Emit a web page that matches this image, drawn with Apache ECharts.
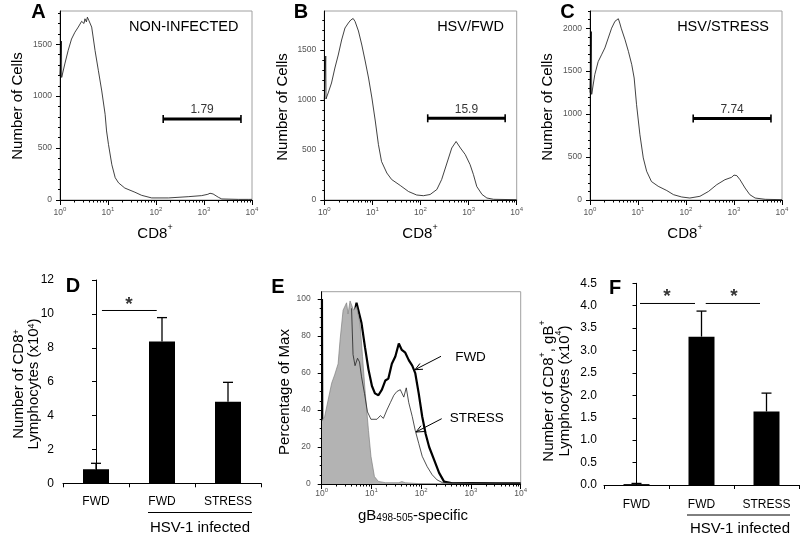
<!DOCTYPE html>
<html><head><meta charset="utf-8">
<script src="https://cdn.jsdelivr.net/npm/echarts@6/dist/echarts.min.js"></script>
<style>html,body{margin:0;padding:0;background:#fff}#c{width:800px;height:539px}</style>
</head><body><div id="c"></div>
<script>
const FONT = 'Liberation Sans, Arial, Helvetica, sans-serif';

// ---------- Panels A-C : CD8 histograms (x = log10 intensity, y = number of cells)
const aLogX  = [0, 0.03, 0.035, 0.10, 0.17, 0.24, 0.31, 0.38, 0.45, 0.50, 0.52, 0.55, 0.57, 0.60, 0.625, 0.66, 0.69, 0.73, 0.80, 0.87, 0.94, 0.97, 1.01, 1.08, 1.15, 1.22, 1.35, 1.56, 1.70, 1.91, 2.26, 2.67, 2.95, 3.08, 3.125, 3.19, 3.30, 3.37, 3.72, 3.92, 4.0];
const aCells = [1200, 1530, 1180, 1310, 1440, 1550, 1615, 1665, 1720, 1700, 1745, 1715, 1760, 1730, 1740, 1665, 1570, 1440, 1245, 1050, 825, 665, 535, 340, 215, 165, 115, 75, 45, 20, 20, 32, 42, 55, 65, 58, 26, 10, 6, 6, 6];

const bLogX  = [0, 0.03, 0.035, 0.08, 0.15, 0.22, 0.29, 0.36, 0.43, 0.50, 0.55, 0.57, 0.60, 0.64, 0.71, 0.78, 0.85, 0.92, 0.99, 1.06, 1.125, 1.19, 1.30, 1.40, 1.58, 1.75, 1.92, 2.06, 2.20, 2.34, 2.44, 2.55, 2.65, 2.74, 2.83, 2.93, 3.03, 3.10, 3.17, 3.28, 3.38, 3.52, 4.0];
const bCells = [1000, 1440, 1010, 1070, 1170, 1320, 1450, 1600, 1720, 1770, 1800, 1790, 1815, 1785, 1690, 1550, 1390, 1220, 1020, 790, 555, 385, 270, 205, 145, 85, 50, 43, 55, 105, 205, 370, 520, 585, 520, 455, 355, 255, 135, 55, 20, 7, 3];

const cLogX  = [0, 0.03, 0.035, 0.10, 0.17, 0.24, 0.31, 0.38, 0.45, 0.52, 0.56, 0.59, 0.62, 0.65, 0.73, 0.80, 0.87, 0.92, 0.97, 1.04, 1.11, 1.18, 1.28, 1.42, 1.60, 1.74, 1.91, 2.08, 2.29, 2.47, 2.64, 2.81, 2.95, 3.0, 3.06, 3.09, 3.125, 3.23, 3.33, 3.44, 3.65, 4.0];
const cCells = [1250, 1960, 1230, 1460, 1610, 1690, 1770, 1885, 2000, 2080, 2090, 2110, 2060, 2000, 1865, 1730, 1575, 1420, 1110, 760, 490, 335, 215, 160, 110, 62, 35, 23, 43, 100, 178, 236, 264, 290, 283, 300, 236, 140, 62, 23, 8, 4];

// gates (log10 range), level and percentage
const gateLogX   = [[2.15, 3.77], [2.15, 3.76], [2.15, 3.77]];
const gateLevel  = [780, 817, 950];
const gateLabels = ['1.79', '15.9', '7.74'];
const panelTags  = ['NON-INFECTED', 'HSV/FWD', 'HSV/STRESS'];

// ---------- Panel E : gB498-505 overlay (percentage of max)
const isoLogX = [0, 0.06, 0.13, 0.20, 0.26, 0.33, 0.37, 0.43, 0.50, 0.53, 0.57, 0.64, 0.70, 0.74, 0.77, 0.82, 0.87, 0.94, 0.99, 1.06, 1.14, 1.28, 1.55, 1.61, 1.68, 1.95, 4.0];
const isoPct  = [34, 36.5, 45.5, 54.5, 59, 65, 78, 94, 98, 92, 99, 94, 96, 97, 87, 69, 51, 29, 15, 4, 1.4, 0.7, 0.7, 1.3, 0.7, 0.2, 0];
const fwdLogX = [0.005, 0.012, 0.3, 0.5, 0.6, 0.64, 0.70, 0.74, 0.80, 0.87, 0.94, 1.01, 1.07, 1.14, 1.21, 1.28, 1.34, 1.41, 1.48, 1.55, 1.61, 1.68, 1.75, 1.82, 1.88, 1.95, 2.02, 2.09, 2.16, 2.26, 2.36, 2.46, 2.63, 3.0, 3.5, 4.0];
const fwdPct  = [100, 25, 30, 70, 85, 90, 98, 99, 87, 74, 62, 53, 49, 48, 51, 56, 57, 65, 69, 76, 72.5, 71, 67, 64, 60, 49, 36.5, 27, 20, 13, 6, 1.3, 0.4, 0.5, 0.3, 0.4];
const strLogX = [0.60, 0.63, 0.67, 0.72, 0.76, 0.80, 0.86, 0.92, 0.99, 1.11, 1.18, 1.24, 1.31, 1.38, 1.45, 1.51, 1.58, 1.65, 1.70, 1.75, 1.82, 1.88, 1.95, 2.02, 2.12, 2.22, 2.32, 2.43, 4.0];
const strPct  = [95, 70, 64, 68, 66, 58, 49, 39, 35, 35, 37, 35.5, 40, 44, 48, 50, 51, 47, 52, 44, 36.5, 29, 22, 15, 9.4, 5, 2.2, 0.7, 0.3];

// ---------- Panels D, F : bar charts
const barCats  = ['FWD', 'FWD', 'STRESS'];
const dMeans   = [0.83, 8.37, 4.82];
const dErrTop  = [1.18, 9.78, 5.96];
const fMeans   = [0.02, 3.31, 1.64];
const fErrTop  = [0.035, 3.88, 2.05];
// significance bars: [from, to, level] in category units; stars [x, y]
const dSig   = [[0.09, 0.92, 10.2]];
const dStars = [[0.5, 10.52]];
const fSig   = [[0.054, 0.90, 4.05], [1.065, 1.90, 4.05]];
const fStars = [[0.47, 4.19], [1.50, 4.19]];

// ticks
const decades  = [0, 1, 2, 3, 4];
const cellTicksAB = [0, 500, 1000, 1500];
const cellTicksC  = [0, 500, 1000, 1500, 2000];
const pctTicks    = [0, 20, 40, 60, 80, 100];

// ----------------------------------------------------------------
const zip = (xs, ys) => xs.map((x, i) => [x, ys[i]]);
const minorDec = [];
for (let n = 0; n < 4; n++) for (let k = 2; k <= 9; k++) minorDec.push(n + Math.log10(k));
const steps = (max, st) => { const r = []; for (let v = 0; v <= max + 1e-9; v += st) r.push(+v.toFixed(4)); return r; };

const grids = [
  {left: 60,    top: 11,    width: 192,   height: 189},   // A
  {left: 324.3, top: 11,    width: 192.4, height: 189},   // B
  {left: 590,   top: 11,    width: 192,   height: 189},   // C
  {left: 63,    top: 280,   width: 198,   height: 203.3}, // D
  {left: 321.7, top: 291.7, width: 199,   height: 192.3}, // E
  {left: 604,   top: 283.3, width: 195,   height: 201.7}  // F
].map((g, i) => Object.assign(g, (i === 3 || i === 5) ? {show: false} :
    {show: true, borderColor: '#a0a0a0', borderWidth: 1, backgroundColor: 'transparent'}));

const xAxes = [], yAxes = [];
function histAxes(gi, ymax, yTicks, yMinor, xMargin, yMargin) {
  const xi = xAxes.length, yi = yAxes.length;
  xAxes.push({type: 'value', gridIndex: gi, min: 0, max: 4, position: 'bottom', z: 6,
    axisLine: {show: true, lineStyle: {color: '#000', width: 1}},
    axisTick: {show: true, customValues: decades, length: 5, lineStyle: {color: '#000'}},
    axisLabel: {customValues: decades, margin: xMargin, color: '#555', hideOverlap: false,
      formatter: v => '{b|10}{s|' + v + '}',
      rich: {b: {fontSize: 8.5, fontFamily: FONT, color: '#555', lineHeight: 11, verticalAlign: 'bottom'},
             s: {fontSize: 6, fontFamily: FONT, color: '#555', lineHeight: 7, verticalAlign: 'top'}}},
    splitLine: {show: false}});
  xAxes.push({type: 'value', gridIndex: gi, min: 0, max: 4, position: 'bottom', z: 6,
    axisLine: {show: false},
    axisTick: {show: true, customValues: minorDec, length: 2.5, lineStyle: {color: '#000'}},
    axisLabel: {show: false}, splitLine: {show: false}});
  yAxes.push({type: 'value', gridIndex: gi, min: 0, max: ymax, position: 'left', z: 6,
    axisLine: {show: true, lineStyle: {color: '#000', width: 1}},
    axisTick: {show: true, customValues: yTicks, length: 4, lineStyle: {color: '#000'}},
    axisLabel: {customValues: yTicks, margin: yMargin, fontSize: 8.5, fontFamily: FONT, color: '#555',
      hideOverlap: false, formatter: v => String(v)},
    splitLine: {show: false}});
  yAxes.push({type: 'value', gridIndex: gi, min: 0, max: ymax, position: 'left', z: 6,
    axisLine: {show: false},
    axisTick: {show: true, customValues: steps(ymax, yMinor), length: 2, lineStyle: {color: '#000'}},
    axisLabel: {show: false}, splitLine: {show: false}});
  return [xi, yi];
}
function barAxes(gi, ymax, interval, dec, xMargin, yMargin) {
  const xi = xAxes.length, yi = yAxes.length;
  xAxes.push({type: 'category', gridIndex: gi, data: barCats, position: 'bottom',
    axisLine: {show: true, lineStyle: {color: '#000', width: 1}},
    axisTick: {show: true, length: 4, lineStyle: {color: '#000'}},
    axisLabel: {margin: xMargin, fontSize: 12, fontFamily: FONT, color: '#000', interval: 0, hideOverlap: false}});
  xAxes.push({type: 'value', gridIndex: gi, min: -0.5, max: 2.5, show: false, position: 'bottom'});
  yAxes.push({type: 'value', gridIndex: gi, min: 0, max: ymax, interval: interval, position: 'left',
    axisLine: {show: true, lineStyle: {color: '#000', width: 1}},
    axisTick: {show: true, length: 4, lineStyle: {color: '#000'}},
    axisLabel: {margin: yMargin, fontSize: 12, fontFamily: FONT, color: '#000', hideOverlap: false,
      formatter: v => v.toFixed(dec)},
    splitLine: {show: false}});
  return [xi, yi];
}

const axA = histAxes(0, 1820, cellTicksAB, 100, 6, 8);
const axB = histAxes(1, 1890, cellTicksAB, 100, 6, 8);
const axC = histAxes(2, 2200, cellTicksC, 100, 6, 8);
const axE = histAxes(4, 104, pctTicks, 5, 3, 11);
const axD = barAxes(3, 12, 2, 0, 12, 9);
const axF = barAxes(5, 4.5, 0.5, 1, 14, 7);

const series = [];
const thin = {color: '#111', width: 0.8};
[[axA, aLogX, aCells], [axB, bLogX, bCells], [axC, cLogX, cCells]].forEach(([ax, xs, ys], i) => {
  series.push({type: 'line', xAxisIndex: ax[0], yAxisIndex: ax[1], data: zip(xs, ys),
    symbol: 'none', lineStyle: thin, z: 3, silent: true});
  const g = gateLogX[i];
  series.push({type: 'line', xAxisIndex: ax[0], yAxisIndex: ax[1],
    data: [[g[0], gateLevel[i]], [g[1], gateLevel[i]]],
    symbol: 'rect', symbolSize: [1.6, 8], showSymbol: true, itemStyle: {color: '#000'},
    lineStyle: {color: '#000', width: 3}, z: 4, silent: true});
  series.push({type: 'scatter', xAxisIndex: ax[0], yAxisIndex: ax[1],
    data: [[(g[0] + g[1]) / 2, gateLevel[i]]], symbolSize: 0.1, z: 4, silent: true,
    label: {show: true, position: 'top', distance: 3, formatter: gateLabels[i],
      fontSize: 12, fontFamily: FONT, color: '#000'}});
});

// Panel E overlays
series.push({type: 'line', xAxisIndex: axE[0], yAxisIndex: axE[1], data: zip(fwdLogX, fwdPct),
  symbol: 'none', lineStyle: {color: '#000', width: 2.2}, z: 2, silent: true});
series.push({type: 'line', xAxisIndex: axE[0], yAxisIndex: axE[1], data: zip(isoLogX, isoPct),
  symbol: 'none', lineStyle: {color: '#808080', width: 0.7},
  areaStyle: {color: '#b3b3b3', opacity: 1}, z: 3, silent: true});
series.push({type: 'line', xAxisIndex: axE[0], yAxisIndex: axE[1], data: zip(strLogX, strPct),
  symbol: 'none', lineStyle: {color: '#222', width: 0.8}, z: 4, silent: true});

// Bar panels
function errRender(params, api) {
  const x = api.value(0), m = api.value(1), t = api.value(2);
  const top = api.coord([x, t]), bot = api.coord([x, m]);
  const hw = 5, st = {stroke: '#000', lineWidth: 1.3};
  return {type: 'group', children: [
    {type: 'line', shape: {x1: top[0], y1: top[1], x2: bot[0], y2: bot[1]}, style: st},
    {type: 'line', shape: {x1: top[0] - hw, y1: top[1], x2: top[0] + hw, y2: top[1]}, style: st}
  ]};
}
[[axD, dMeans, dErrTop, dSig, dStars], [axF, fMeans, fErrTop, fSig, fStars]].forEach(([ax, means, errs, sig, stars]) => {
  const catX = ax[0], valX = ax[0] + 1, y = ax[1];
  series.push({type: 'bar', xAxisIndex: catX, yAxisIndex: y, data: means, barWidth: 26,
    itemStyle: {color: '#000'}, silent: true, z: 2});
  series.push({type: 'custom', xAxisIndex: catX, yAxisIndex: y, renderItem: errRender,
    data: means.map((m, i) => [i, m, errs[i]]), z: 3, silent: true});
  sig.forEach(s => series.push({type: 'line', xAxisIndex: valX, yAxisIndex: y,
    data: [[s[0], s[2]], [s[1], s[2]]], symbol: 'none', lineStyle: {color: '#000', width: 1}, silent: true}));
  series.push({type: 'scatter', xAxisIndex: valX, yAxisIndex: y, data: stars, symbolSize: 0.1, silent: true,
    label: {show: true, position: 'inside', formatter: '*', fontSize: 19, fontWeight: 'bold',
      fontFamily: FONT, color: '#000'}});
});

// --------- text / annotations
function richSet(s, lh) {
  lh = lh || Math.round(s * 1.2);
  return {
    n:   {fontSize: s, fontFamily: FONT, fill: '#000', color: '#000', lineHeight: lh, verticalAlign: 'bottom'},
    sup: {fontSize: Math.round(s * 0.62), fontFamily: FONT, fill: '#000', color: '#000', lineHeight: Math.round(s * 0.62), verticalAlign: 'top'},
    sub: {fontSize: Math.round(s * 0.68), fontFamily: FONT, fill: '#000', color: '#000', lineHeight: Math.round(s * 0.68), verticalAlign: 'bottom'}
  };
}
function txt(x, y, text, size, o) {
  o = o || {};
  return {type: 'text', x: x, y: y, rotation: o.rot || 0, z: 100, silent: true,
    style: {text: text, fill: '#000', fontSize: size, fontFamily: FONT, lineHeight: o.lh,
      fontWeight: o.bold ? 'bold' : 'normal', align: o.align || 'center', verticalAlign: 'middle',
      rich: o.rich ? richSet(size, o.lh) : undefined}};
}
function line(x1, y1, x2, y2, w) {
  return {type: 'line', z: 100, silent: true, shape: {x1, y1, x2, y2}, style: {stroke: '#000', lineWidth: w || 1}};
}
function arrow(x1, y1, x2, y2) {
  const a = Math.atan2(y2 - y1, x2 - x1), L = 8, sp = 0.42;
  return [line(x1, y1, x2, y2, 1),
    line(x2, y2, x2 - L * Math.cos(a - sp), y2 - L * Math.sin(a - sp), 1),
    line(x2, y2, x2 - L * Math.cos(a + sp), y2 - L * Math.sin(a + sp), 1)];
}
const R90 = Math.PI / 2;
const graphic = [
  txt(38.5, 12.5, 'A', 20, {bold: true}), txt(301, 12.5, 'B', 20, {bold: true}), txt(567.5, 12.5, 'C', 20, {bold: true}),
  txt(73, 286, 'D', 20, {bold: true}), txt(278, 287, 'E', 20, {bold: true}), txt(615, 288, 'F', 20, {bold: true}),
  txt(238.5, 26.5, panelTags[0], 14.5, {align: 'right'}),
  txt(504, 26.5, panelTags[1], 14.5, {align: 'right'}),
  txt(769, 26.5, panelTags[2], 14.5, {align: 'right'}),
  txt(155, 232, '{n|CD8}{sup|+}', 15, {rich: true}),
  txt(420, 232, '{n|CD8}{sup|+}', 15, {rich: true}),
  txt(685, 232, '{n|CD8}{sup|+}', 15, {rich: true}),
  txt(18, 106, 'Number of Cells', 15, {rot: R90}),
  txt(283, 107, 'Number of Cells', 15, {rot: R90}),
  txt(548, 107, 'Number of Cells', 15, {rot: R90}),
  txt(285, 392, 'Percentage of Max', 15, {rot: R90}),
  txt(413, 514, '{n|gB}{sub|498-505}{n|-specific}', 15, {rich: true}),
  txt(19.5, 384, '{n|Number of CD8}{sup|+}', 15, {rot: R90, rich: true, lh: 14}),
  txt(34, 384, '{n|Lymphocytes (x10}{sup|4}{n|)}', 15, {rot: R90, rich: true, lh: 14}),
  txt(547.5, 391, '{n|Number of CD8}{sup|+}{n|, gB}{sup|+}', 15, {rot: R90, rich: true}),
  txt(563.5, 391, '{n|Lymphocytes (x10}{sup|4}{n|)}', 15, {rot: R90, rich: true}),
  txt(470.5, 357, 'FWD', 13.5), txt(476.7, 418, 'STRESS', 13.5),
  ...arrow(441, 356.3, 415, 369.7), ...arrow(441.7, 418.7, 416, 432),
  line(148, 512.5, 252, 512.5, 1), txt(200, 528, 'HSV-1 infected', 15),
  line(687, 515, 790, 515, 1), txt(740, 529, 'HSV-1 infected', 15)
];

const chart = echarts.init(document.getElementById('c'), null, {renderer: 'canvas'});
chart.setOption({
  animation: false,
  backgroundColor: '#fff',
  textStyle: {fontFamily: FONT},
  grid: grids, xAxis: xAxes, yAxis: yAxes, series: series, graphic: graphic
});
</script></body></html>
